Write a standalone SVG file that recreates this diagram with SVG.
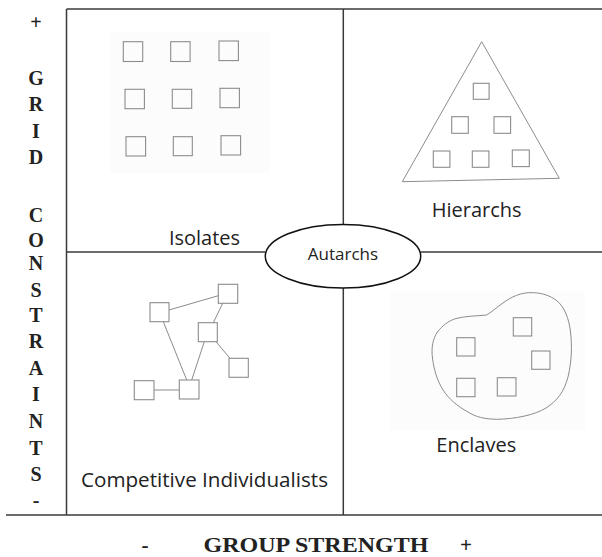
<svg xmlns="http://www.w3.org/2000/svg" width="602" height="557" viewBox="0 0 602 557">
<style>
.frame{stroke:#3a3a3a;stroke-width:1.5;fill:none}
.sk{stroke:#8c8c8c;stroke-width:1;fill:none}
.sq{stroke:#8c8c8c;stroke-width:1.1;fill:none}
.bg{fill:#fcfcfc;stroke:none}
.lbl{font-family:"Open Sans","Noto Sans",sans-serif;font-size:20px;fill:#222;text-anchor:middle}
.ax{font-family:"Liberation Serif","Times New Roman",serif;font-weight:bold;font-size:20px;fill:#222;text-anchor:middle}
.gs{font-size:21px}
</style>
<rect width="602" height="557" fill="#ffffff"/>

<g id="frame">
  <line class="frame" x1="66.5" y1="9" x2="602" y2="9"/>
  <line class="frame" x1="66.5" y1="9" x2="66.5" y2="515"/>
  <line class="frame" x1="6" y1="515" x2="602" y2="515"/>
  <line class="frame" x1="343.3" y1="9" x2="343.3" y2="224.5"/>
  <line class="frame" x1="343.3" y1="288" x2="343.3" y2="515"/>
  <line class="frame" x1="66.5" y1="252" x2="265.3" y2="252"/>
  <line class="frame" x1="420.7" y1="252" x2="602" y2="252"/>
</g>

<g id="grid-axis">
  <text class="ax" x="36" y="29">+</text>
  <text class="ax" x="36" y="85">G</text>
  <text class="ax" x="36" y="111">R</text>
  <text class="ax" x="36" y="137.5">I</text>
  <text class="ax" x="36" y="164">D</text>
  <text class="ax" x="36" y="221.5">C</text>
  <text class="ax" x="36" y="247">O</text>
  <text class="ax" x="36" y="270">N</text>
  <text class="ax" x="36" y="296.5">S</text>
  <text class="ax" x="36" y="322">T</text>
  <text class="ax" x="36" y="348">R</text>
  <text class="ax" x="36" y="374.5">A</text>
  <text class="ax" x="36" y="401">I</text>
  <text class="ax" x="36" y="428">N</text>
  <text class="ax" x="36" y="454.5">T</text>
  <text class="ax" x="36" y="481">S</text>
  <text class="ax" x="36" y="507">-</text>
</g>

<g id="group-axis">
  <text class="ax gs" x="145" y="552">-</text>
  <text class="ax gs" x="316" y="552" textLength="225" lengthAdjust="spacingAndGlyphs">GROUP STRENGTH</text>
  <text class="ax gs" x="466" y="552">+</text>
</g>

<g id="isolates">
  <rect class="bg" x="110" y="32" width="160" height="141"/>
  <rect class="sq" x="123.3" y="41.7" width="19.4" height="19.8"/>
  <rect class="sq" x="170.7" y="41.7" width="19.4" height="19.8"/>
  <rect class="sq" x="219" y="41" width="19.4" height="19.6"/>
  <rect class="sq" x="125" y="89.3" width="19.4" height="19.4"/>
  <rect class="sq" x="172.3" y="89.3" width="19.4" height="19"/>
  <rect class="sq" x="220" y="88.3" width="19.4" height="19.4"/>
  <rect class="sq" x="126" y="136.7" width="19.6" height="19.3"/>
  <rect class="sq" x="173.3" y="136.7" width="19" height="19"/>
  <rect class="sq" x="221" y="135.7" width="19.6" height="19.3" stroke="#555"/>
  <text class="lbl" x="204.5" y="245">Isolates</text>
</g>

<g id="hierarchs">
  <polygon class="sk" points="481.7,41.7 402.3,181.7 559.3,178.3"/>
  <rect class="sq" x="473.3" y="83.3" width="15.8" height="16"/>
  <rect class="sq" x="451.7" y="116.7" width="16.6" height="16.6"/>
  <rect class="sq" x="494" y="116.7" width="16.6" height="16.6"/>
  <rect class="sq" x="433.3" y="151" width="16.6" height="16.3"/>
  <rect class="sq" x="472.3" y="151" width="16.6" height="16.3"/>
  <rect class="sq" x="512.3" y="150" width="17" height="16.6"/>
  <text class="lbl" x="476.7" y="217">Hierarchs</text>
</g>

<g id="connectors">
  <line class="sk" x1="169" y1="310" x2="218.3" y2="295.7"/>
  <line class="sk" x1="222.7" y1="303.3" x2="213.3" y2="322.7"/>
  <line class="sk" x1="163.3" y1="321.7" x2="186.7" y2="380"/>
  <line class="sk" x1="204.3" y1="341.7" x2="191.7" y2="380"/>
  <line class="sk" x1="216" y1="341.7" x2="230" y2="358.3"/>
  <line class="sk" x1="154" y1="390" x2="179.3" y2="390"/>
</g>

<g id="competitive-individualists">
  <rect class="sq" x="150" y="302.7" width="19" height="19"/>
  <rect class="sq" x="218.3" y="284.3" width="19.4" height="19"/>
  <rect class="sq" x="198.3" y="322.7" width="19" height="19"/>
  <rect class="sq" x="229" y="358.3" width="19.3" height="19"/>
  <rect class="sq" x="134.3" y="380.7" width="19.7" height="19"/>
  <rect class="sq" x="179.3" y="380" width="19.7" height="19"/>
  <text class="lbl" x="81" y="487" style="text-anchor:start" textLength="247" lengthAdjust="spacingAndGlyphs">Competitive Individualists</text>
</g>

<g id="enclaves">
  <rect class="bg" x="390" y="291.7" width="195" height="138.3"/>
  <path class="sk" d="M486.7,315 C493,311 497,307 503,303 C511,297 521,292 533.3,292.7 C543,293 550,296 556,300 C564,306 569,318 570.5,332 C572,345 572,360 568,377 C564,392 557,401 546,408 C535,415 515,419 496.7,419.3 C484,419 476,417 468,412 C457,406 449,399 443,390 C437,380 434,370 432.5,358 C431,348 433,338 437.5,332 C442,326 448,321 456,318.5 C466,316 476,316 486.7,315 Z"/>
  <rect class="sq" x="513.3" y="317.7" width="18.4" height="18.3"/>
  <rect class="sq" x="456.7" y="337.7" width="18.3" height="18.3"/>
  <rect class="sq" x="531.7" y="351" width="18.3" height="18.3"/>
  <rect class="sq" x="456.7" y="378.3" width="18.3" height="18.4"/>
  <rect class="sq" x="497.3" y="377.7" width="18.7" height="18.3"/>
  <text class="lbl" x="476.3" y="451.5">Enclaves</text>
</g>

<g id="autarchs">
  <ellipse cx="343" cy="256.2" rx="77.7" ry="31.8" fill="#ffffff" stroke="#111" stroke-width="1.5"/>
  <text class="lbl" x="343" y="259.5" style="font-size:17px">Autarchs</text>
</g>
</svg>
